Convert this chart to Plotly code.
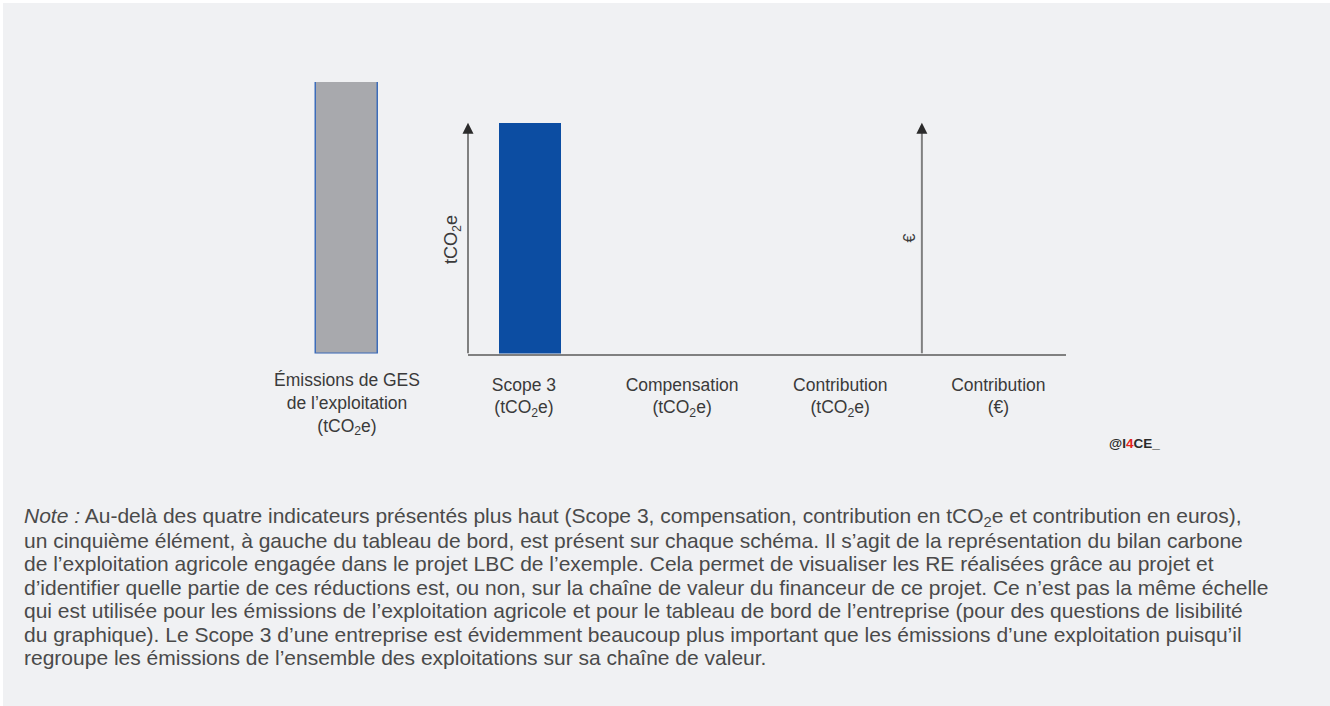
import plotly.graph_objects as go

# Données du schéma (valeurs indicatives, échelle libre)
categories_exploitation = ["Émissions de GES<br>de l’exploitation<br>(tCO<sub>2</sub>e)"]
valeurs_exploitation = [100]

categories_tableau = [
    "Scope 3<br>(tCO<sub>2</sub>e)",
    "Compensation<br>(tCO<sub>2</sub>e)",
    "Contribution<br>(tCO<sub>2</sub>e)",
    "Contribution<br>(€)",
]
valeurs_tableau = [85, None, None, None]

lignes_note = [
    "<i>Note :</i> Au-delà des quatre indicateurs présentés plus haut (Scope 3, compensation, contribution en tCO<sub>2</sub>e et contribution en euros),",
    "un cinquième élément, à gauche du tableau de bord, est présent sur chaque schéma. Il s’agit de la représentation du bilan carbone",
    "de l’exploitation agricole engagée dans le projet LBC de l’exemple. Cela permet de visualiser les RE réalisées grâce au projet et",
    "d’identifier quelle partie de ces réductions est, ou non, sur la chaîne de valeur du financeur de ce projet. Ce n’est pas la même échelle",
    "qui est utilisée pour les émissions de l’exploitation agricole et pour le tableau de bord de l’entreprise (pour des questions de lisibilité",
    "du graphique). Le Scope 3 d’une entreprise est évidemment beaucoup plus important que les émissions d’une exploitation puisqu’il",
    "regroupe les émissions de l’ensemble des exploitations sur sa chaîne de valeur.",
]

W, H = 1330, 706
FOND = '#f0f1f3'
GRIS_AXE = '#808080'
POLICE = 'Liberation Sans'

def px_x(v):
    return v / W

def px_y(v):
    return 1 - v / H

fig = go.Figure()

# Barre grise : émissions de l'exploitation
fig.add_trace(go.Bar(
    x=categories_exploitation,
    y=valeurs_exploitation,
    xaxis='x', yaxis='y',
    width=0.4,
    marker=dict(color='#a8a9ad', line=dict(color='#3d6cb9', width=1.5)),
    hoverinfo='skip',
))

# Tableau de bord de l'entreprise
fig.add_trace(go.Bar(
    x=categories_tableau,
    y=valeurs_tableau,
    xaxis='x2', yaxis='y',
    width=0.392,
    offset=-0.158,
    marker=dict(color='#0c4da2', line=dict(width=0)),
    hoverinfo='skip',
))

police_ticks = dict(family=POLICE, size=17.5, color='#3a3a3a')

fig.update_layout(
    width=W, height=H,
    margin=dict(l=0, r=0, t=0, b=0),
    paper_bgcolor='white',
    plot_bgcolor='rgba(0,0,0,0)',
    showlegend=False,
    bargap=0,
    xaxis=dict(
        domain=[px_x(270), px_x(424)],
        type='category',
        range=[-0.5, 0.5],
        showline=False, showgrid=False, zeroline=False,
        ticks='', ticklabelstandoff=14,
        tickfont=police_ticks,
        anchor='y', automargin=False, fixedrange=True,
    ),
    xaxis2=dict(
        domain=[px_x(468), px_x(1066)],
        type='category',
        categoryorder='array', categoryarray=categories_tableau,
        range=[-0.354, 3.428],
        showline=True, linecolor=GRIS_AXE, linewidth=2,
        showgrid=False, zeroline=False,
        ticks='', ticklabelstandoff=14,
        tickfont=police_ticks,
        anchor='y', automargin=False, fixedrange=True,
    ),
    yaxis=dict(
        domain=[px_y(353.5), px_y(82)],
        range=[0, 100],
        visible=False,
        fixedrange=True,
    ),
)

# Fond gris clair avec fin liseré blanc en haut et à gauche
fig.add_shape(type='rect', xref='paper', yref='paper',
              x0=px_x(3), x1=1, y0=0, y1=px_y(3),
              fillcolor=FOND, line=dict(width=0), layer='below')

# Axes verticaux avec flèche (tCO2e et €)
for pos in [0, 0.759]:
    fig.add_shape(type='line', xref='x2 domain', yref='y',
                  x0=pos, x1=pos, y0=0, y1=82,
                  line=dict(color=GRIS_AXE, width=2))
    fig.add_annotation(xref='x2 domain', yref='y', x=pos, y=85,
                       ax=0, ay=9, showarrow=True, text='',
                       arrowhead=2, arrowsize=1.1, arrowwidth=2,
                       arrowcolor='#2b2b2b')

fig.add_annotation(xref='paper', yref='paper', x=px_x(452), y=px_y(240),
                   text='tCO<sub>2</sub>e', textangle=-90, showarrow=False,
                   font=dict(family=POLICE, size=18, color='#3a3a3a'))
fig.add_annotation(xref='paper', yref='paper', x=px_x(919), y=px_y(238),
                   text='€', textangle=-90, showarrow=False,
                   font=dict(family=POLICE, size=16, color='#3a3a3a'))

# Signature
fig.add_annotation(xref='paper', yref='paper', x=px_x(1107), y=px_y(443),
                   xanchor='left',
                   text='<b>@I<span style="color:#e3241b">4</span>CE_</b>',
                   showarrow=False,
                   font=dict(family=POLICE, size=13.5, color='#2a2a2a'))

# Note sous le graphique
for i, ligne in enumerate(lignes_note):
    fig.add_annotation(xref='paper', yref='paper',
                       x=px_x(22), y=px_y(517 + 23.4 * i),
                       xanchor='left', yanchor='middle',
                       text=ligne, showarrow=False, align='left',
                       font=dict(family=POLICE, size=21, color='#4a4a4a'))

fig.write_html("out.html", config={'displayModeBar': False},
               post_script="document.body.style.margin='0px';")
